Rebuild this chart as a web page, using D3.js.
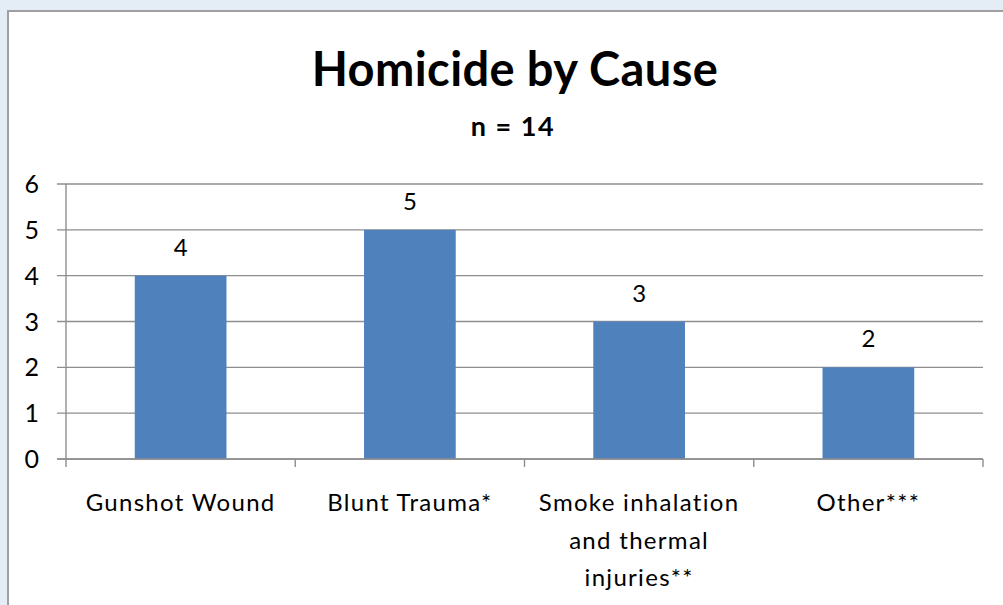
<!DOCTYPE html>
<html>
<head>
<meta charset="utf-8">
<script src="https://cdn.jsdelivr.net/npm/d3@7"></script>
<style>
  html, body { margin: 0; padding: 0; background: #e4ecf6; }
  #chart { width: 1003px; height: 605px; }
  text { font-family: Lato, "Open Sans", sans-serif; fill: #000; }
</style>
</head>
<body>
<div id="chart"></div>
<script>
// chart data
const categories = ["Gunshot Wound", "Blunt Trauma*", "Smoke inhalation\nand thermal\ninjuries**", "Other***"];
const counts = [4, 5, 3, 2];
const yTicks = [0, 1, 2, 3, 4, 5, 6];
const title = "Homicide by Cause";
const subtitle = "n = 14";

const width = 1003;
const height = 605;

const svg = d3.select("#chart").append("svg")
    .attr("width", width)
    .attr("height", height);

// white chart panel with grey frame (runs off the right/bottom edge)
svg.append("rect")
    .attr("x", 8)
    .attr("y", 11)
    .attr("width", width + 20)
    .attr("height", height + 20)
    .style("fill", "#fff")
    .style("stroke", "#a0a0a0")
    .style("stroke-width", 2);

const x = d3.scaleBand()
    .domain(categories)
    .range([66, 983])
    .padding(0);

const y = d3.scaleLinear()
    .domain([0, 6])
    .range([459, 184]);

// gridlines + y ticks
svg.selectAll(".grid")
    .data(yTicks)
    .enter()
    .append("line")
    .attr("class", "grid")
    .attr("x1", 57)
    .attr("x2", 983)
    .attr("y1", d => y(d))
    .attr("y2", d => y(d))
    .style("stroke", "#8e8e8e")
    .style("stroke-width", 1.4);

svg.selectAll(".ylab")
    .data(yTicks)
    .enter()
    .append("text")
    .attr("class", "ylab")
    .attr("x", 39)
    .attr("y", d => y(d))
    .attr("dy", "0.36em")
    .attr("text-anchor", "end")
    .style("font-size", "25px")
    .text(d => d);

// y axis line
svg.append("line")
    .attr("x1", 66).attr("x2", 66)
    .attr("y1", y(6)).attr("y2", y(0))
    .style("stroke", "#8e8e8e")
    .style("stroke-width", 1.4);

// category ticks below the axis
const bounds = categories.map(d => x(d)).concat([x.range()[1]]);
svg.selectAll(".xtick")
    .data(bounds)
    .enter()
    .append("line")
    .attr("class", "xtick")
    .attr("x1", d => d).attr("x2", d => d)
    .attr("y1", y(0)).attr("y2", y(0) + 8)
    .style("stroke", "#8e8e8e")
    .style("stroke-width", 1.4);

// bars
const barW = x.bandwidth() * 0.4;
svg.selectAll(".bar")
    .data(categories)
    .enter()
    .append("rect")
    .attr("class", "bar")
    .attr("x", d => x(d) + (x.bandwidth() - barW) / 2)
    .attr("y", (d, i) => y(counts[i]))
    .attr("width", barW)
    .attr("height", (d, i) => y(0) - y(counts[i]))
    .style("fill", "#4f81bd");

// redraw axis line over bar bottoms
svg.append("line")
    .attr("x1", 57).attr("x2", 983)
    .attr("y1", y(0)).attr("y2", y(0))
    .style("stroke", "#8e8e8e")
    .style("stroke-width", 1.4);

// value labels
svg.selectAll(".val")
    .data(categories)
    .enter()
    .append("text")
    .attr("class", "val")
    .attr("x", d => x(d) + x.bandwidth() / 2)
    .attr("y", (d, i) => y(counts[i]) - 20)
    .attr("text-anchor", "middle")
    .style("font-size", "24px")
    .text((d, i) => counts[i]);

// category labels
const labels = svg.selectAll(".xlab")
    .data(categories)
    .enter()
    .append("text")
    .attr("class", "xlab")
    .attr("x", d => x(d) + x.bandwidth() / 2)
    .attr("y", 511)
    .attr("text-anchor", "middle")
    .style("font-size", "24px")
    .style("letter-spacing", "1.3px");

labels.each(function(d) {
    const t = d3.select(this);
    d.split("\n").forEach((line, i) => {
        t.append("tspan")
            .attr("x", x(d) + x.bandwidth() / 2)
            .attr("dy", i === 0 ? 0 : 37.5)
            .text(line);
    });
});

// titles
svg.append("text")
    .attr("x", 515)
    .attr("y", 86)
    .attr("text-anchor", "middle")
    .style("font-size", "47px")
    .style("font-weight", "bold")
    .style("letter-spacing", "0.4px")
    .text(title);

svg.append("text")
    .attr("x", 513)
    .attr("y", 136)
    .attr("text-anchor", "middle")
    .style("font-size", "27px")
    .style("font-weight", "bold")
    .style("letter-spacing", "1.5px")
    .text(subtitle);
</script>
</body>
</html>
